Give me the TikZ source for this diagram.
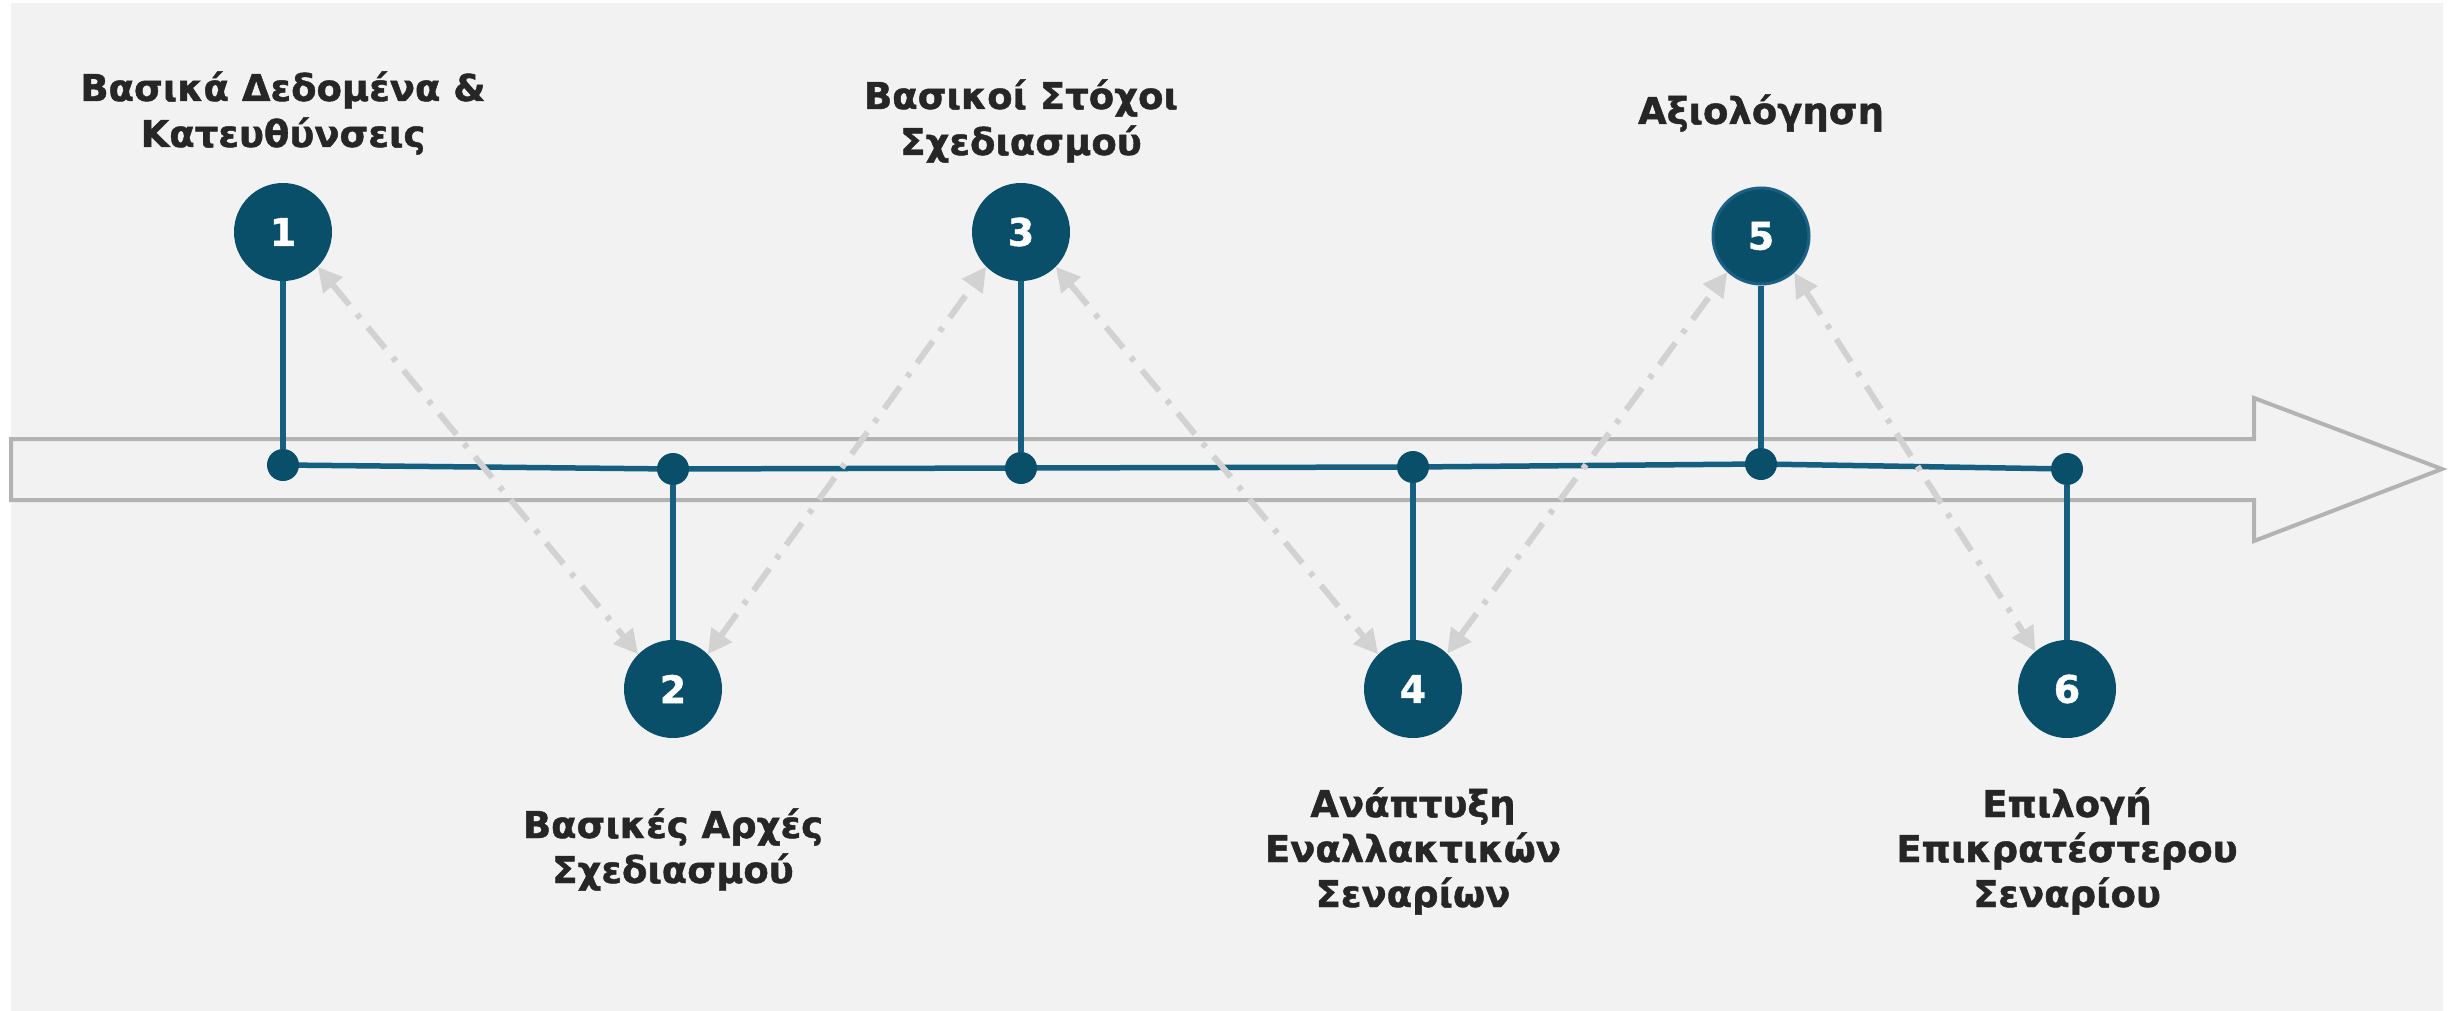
\documentclass[tikz,border=0pt]{standalone}
\usepackage{fontspec}
\setmainfont{DejaVu Sans}[BoldFeatures={FakeBold=1.2}]
\usetikzlibrary{arrows.meta}
\definecolor{bgc}{HTML}{F2F2F2}
\definecolor{cfill}{HTML}{0A4F6A}
\definecolor{cedge}{HTML}{1B6185}
\definecolor{lblue}{HTML}{155F80}
\definecolor{agray}{HTML}{B3B3B3}
\definecolor{dgray}{HTML}{D2D2D2}
\definecolor{txt}{HTML}{262626}
\begin{document}
\begin{tikzpicture}[x=1pt,y=-1pt,
  lbl/.style={font=\fontsize{37}{46}\selectfont\bfseries, text=txt, inner sep=0pt, anchor=base},
  num/.style={circle, fill=cfill, minimum size=98pt, inner sep=0pt, text=white, font=\fontsize{38}{44}\selectfont\bfseries},
  dotn/.style={circle, fill=cfill, minimum size=32pt, inner sep=0pt},
  stem/.style={line width=5.5pt, draw=lblue},
  link/.style={draw=dgray, line width=6pt, dash pattern=on 27pt off 12pt on 5pt off 12pt,
    {Triangle[length=24pt,width=24pt]}-{Triangle[length=24pt,width=24pt]}}
]
\useasboundingbox (0,0) rectangle (2450,1011);
\fill[bgc] (11,3) rectangle (2443,1011);
% big arrow outline
\draw[agray, line width=4pt, line join=miter, miter limit=10]
  (11,439) -- (2254,439) -- (2254,398) -- (2442,469) -- (2254,541) -- (2254,500) -- (11,500) -- cycle;
% positions of dots
\coordinate (p1) at (283,465);
\coordinate (p2) at (673,469);
\coordinate (p3) at (1021,468);
\coordinate (p4) at (1413,467);
\coordinate (p5) at (1761,464);
\coordinate (p6) at (2067,469);
\draw[lblue, line width=5.5pt] (p1) -- (p2) -- (p3) -- (p4) -- (p5) -- (p6);
\foreach \i in {1,...,6} { \node[dotn] (d\i) at (p\i) {}; }
% circles
\node[num] (c1) at (283,232) {1};
\node[num] (c2) at (673,689) {2};
\node[num] (c3) at (1021,232) {3};
\node[num] (c4) at (1413,689) {4};
\node[num, draw=cedge, line width=3pt, minimum size=96pt] (c5) at (1761,236) {5};
\node[num] (c6) at (2067,689) {6};
% stems
\draw[stem] (c1.south) -- (d1.north);
\draw[stem] (c3.south) -- (d3.north);
\draw[stem] (c5.south) -- (d5.north);
\draw[stem] (d2.south) -- (c2.north);
\draw[stem] (d4.south) -- (c4.north);
\draw[stem] (d6.south) -- (c6.north);
% dashed links
\draw[link] (c1.-45) -- (c2.135);
\draw[link] (c2.45) -- (c3.-135);
\draw[link] (c3.-45) -- (c4.135);
\draw[link] (c4.46) -- (c5.-133);
\draw[link] (c5.-48) -- (c6.130);
% labels
\node[lbl] (l1a) at (283,101) {Βασικά Δεδομένα \&};
\node[lbl] (l1b) at (283,147) {Κατευθύνσεις};
\node[lbl] (l3a) at (1021,109) {Βασικοί Στόχοι};
\node[lbl] (l3b) at (1021,155) {Σχεδιασμού};
\node[lbl] (l5a) at (1761,124) {Αξιολόγηση};
\node[lbl] (l2a) at (673,838) {Βασικές Αρχές};
\node[lbl] (l2b) at (673,883) {Σχεδιασμού};
\node[lbl] (l4a) at (1413,817) {Ανάπτυξη};
\node[lbl] (l4b) at (1413,862) {Εναλλακτικών};
\node[lbl] (l4c) at (1413,907) {Σεναρίων};
\node[lbl] (l6a) at (2067,817) {Επιλογή};
\node[lbl] (l6b) at (2067,862) {Επικρατέστερου};
\node[lbl] (l6c) at (2067,907) {Σεναρίου};
\end{tikzpicture}
\end{document}
